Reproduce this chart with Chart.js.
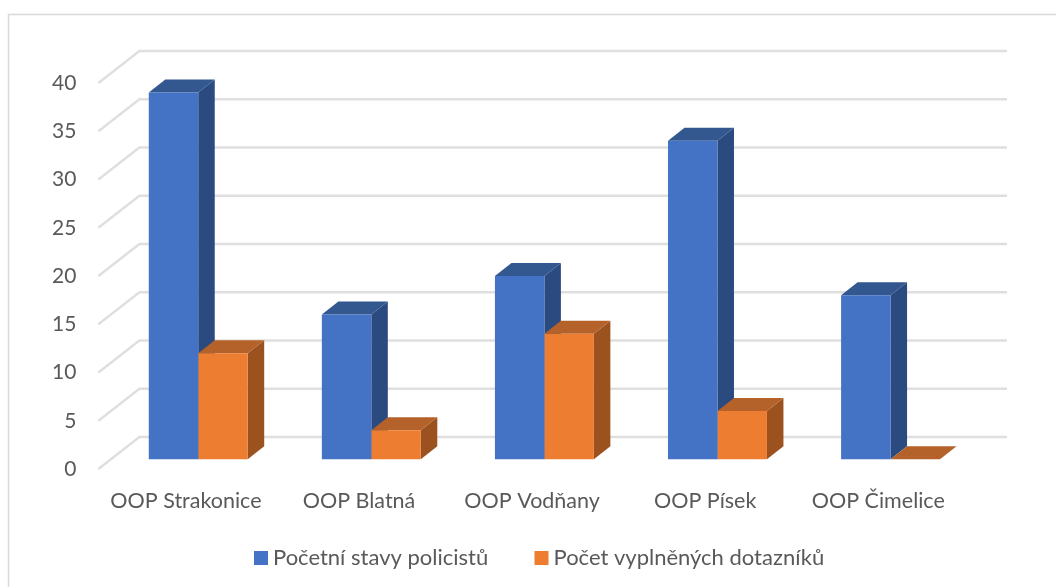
<!DOCTYPE html>
<html>
<head>
<meta charset="utf-8">
<title>OOP</title>
<script src="https://cdn.jsdelivr.net/npm/chart.js@4/dist/chart.umd.min.js"></script>
<style>
    body { margin: 0; background: #fff; }
    canvas { display: block; }
</style>
</head>
<body>
<canvas id="chart" width="1056" height="587"></canvas>
<script>
const categories = ['OOP Strakonice', 'OOP Blatná', 'OOP Vodňany', 'OOP Písek', 'OOP Čimelice'];
const seriesNames = ['Početní stavy policistů', 'Počet vyplněných dotazníků'];
const stavy = [38, 15, 19, 33, 17];
const dotazniky = [11, 3, 13, 5, 0];

const fontName = 'Lato';
const textColor = '#595959';
const gridColor = '#dfdfdf';

// pseudo 3D: posun zadni steny, posun sloupcu a hloubka sloupcu
const wallDx = 41;
const wallDy = -32;
const barDx = 12.3;
const barDy = -9.7;
const depthX = 16.5;
const depthY = -13;
const backRight = 1007;

const sideColors = [
    { right: '#2a4a80', top: '#33578f' },
    { right: '#9c521e', top: '#b5622a' }
];

function poly(ctx, pts, color) {
    ctx.fillStyle = color;
    ctx.beginPath();
    pts.forEach((p, i) => i ? ctx.lineTo(p[0], p[1]) : ctx.moveTo(p[0], p[1]));
    ctx.closePath();
    ctx.fill();
}

const frame3d = {
    id: 'frame3d',
    beforeDraw(chart) {
        const ctx = chart.ctx;
        ctx.save();
        ctx.strokeStyle = '#d9d9d9';
        ctx.lineWidth = 1.5;
        ctx.beginPath();
        ctx.moveTo(8.5, 587);
        ctx.lineTo(8.5, 14.5);
        ctx.lineTo(1056, 14.5);
        ctx.stroke();
        // mrizka na bocni a zadni stene
        const y = chart.scales.y;
        const left = chart.chartArea.left - 1;
        ctx.strokeStyle = gridColor;
        ctx.lineWidth = 2.4;
        y.ticks.forEach((t) => {
            const py = y.getPixelForValue(t.value);
            ctx.beginPath();
            ctx.moveTo(left, py);
            ctx.lineTo(left + wallDx, py + wallDy);
            ctx.lineTo(backRight, py + wallDy);
            ctx.stroke();
        });
        ctx.restore();
    },
    beforeDatasetsDraw(chart) {
        // boky a vrsky se kresli pod vsechna cela sloupcu
        const ctx = chart.ctx;
        ctx.save();
        ctx.translate(barDx, barDy);
        chart.data.datasets.forEach((ds, i) => {
            const colors = sideColors[i];
            chart.getDatasetMeta(i).data.forEach((bar) => {
                const l = bar.x - bar.width / 2;
                const r = bar.x + bar.width / 2;
                poly(ctx, [[r, bar.y], [r + depthX, bar.y + depthY], [r + depthX, bar.base + depthY], [r, bar.base]], colors.right);
                poly(ctx, [[l, bar.y], [l + depthX, bar.y + depthY], [r + depthX, bar.y + depthY], [r, bar.y]], colors.top);
            });
        });
        ctx.restore();
    },
    beforeDatasetDraw(chart) {
        chart.ctx.save();
        chart.ctx.translate(barDx, barDy);
    },
    afterDatasetDraw(chart) {
        chart.ctx.restore();
    },
    afterDraw(chart) {
        // legenda: mezera mezi ctvereckem a textem je mensi nez u vestavene
        const ctx = chart.ctx;
        ctx.save();
        ctx.font = '22px ' + fontName;
        ctx.textBaseline = 'middle';
        const starts = [254, 534.5];
        chart.data.datasets.forEach((ds, i) => {
            ctx.fillStyle = ds.backgroundColor;
            ctx.fillRect(starts[i], 551, 14, 14);
            ctx.fillStyle = textColor;
            ctx.fillText(ds.label, starts[i] + 19, 558);
        });
        ctx.restore();
    }
};

new Chart(document.getElementById('chart'), {
    type: 'bar',
    data: {
        labels: categories,
        datasets: [
            { label: seriesNames[0], data: stavy, backgroundColor: '#4472c4', clip: false },
            { label: seriesNames[1], data: dotazniky, backgroundColor: '#ed7d31', clip: false }
        ]
    },
    options: {
        responsive: false,
        animation: false,
        layout: { padding: { left: 0, top: 83, right: 91.2, bottom: 0 } },
        categoryPercentage: 0.5716,
        barPercentage: 1,
        plugins: {
            legend: { display: false },
            tooltip: { enabled: false }
        },
        scales: {
            x: {
                grid: { display: false },
                border: { display: false },
                ticks: { color: textColor, font: { family: fontName, size: 21.5 }, padding: 11, maxRotation: 0, autoSkip: false },
                afterFit(scale) { scale.height = 118; }
            },
            y: {
                min: 0,
                max: 40,
                grid: { display: false },
                border: { display: false },
                ticks: { stepSize: 5, color: textColor, font: { family: fontName, size: 21 }, padding: 15 },
                afterFit(scale) { scale.width = 99.4; }
            }
        }
    },
    plugins: [frame3d]
});
</script>
</body>
</html>
